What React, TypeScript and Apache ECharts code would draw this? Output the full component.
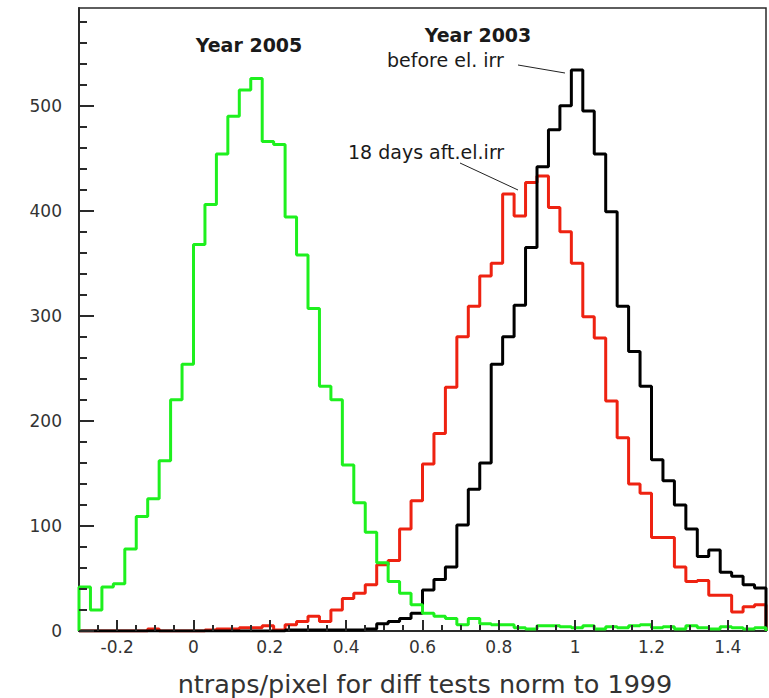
import React, { useEffect, useRef } from "react";
import * as echarts from "echarts";

// Histogram binning: 60 bins of 0.03 from -0.3 to 1.5
const X_MIN = -0.3;
const X_MAX = 1.5;
const BIN_WIDTH = 0.03;

// Counts per bin
const year2005 = [
  42, 20, 42, 45, 78, 109, 126, 162, 220, 254,
  368, 406, 454, 490, 515, 526, 466, 463, 394, 358,
  307, 233, 220, 158, 122, 94, 65, 47, 36, 25,
  17, 14, 12, 6, 12, 7, 6, 6, 3, 2,
  5, 5, 4, 3, 5, 2, 4, 3, 5, 6,
  3, 4, 2, 5, 3, 2, 4, 3, 2, 3,
];

const year2003Before = [
  0, 0, 0, 0, 0, 0, 0, 0, 0, 0,
  0, 0, 0, 0, 0, 0, 0, 0, 1, 1,
  1, 1, 1, 1, 1, 2, 7, 9, 12, 17,
  39, 49, 61, 101, 135, 160, 254, 280, 310, 365,
  442, 477, 500, 534, 495, 454, 399, 309, 266, 233,
  163, 143, 120, 97, 71, 77, 56, 52, 44, 41,
];

const year2003After = [
  0, 0, 0, 0, 0, 0, 2, 0, 0, 0,
  0, 1, 2, 2, 3, 3, 5, 1, 6, 9,
  14, 9, 20, 31, 36, 44, 63, 67, 97, 124,
  159, 188, 232, 280, 309, 338, 350, 416, 395, 427,
  433, 403, 380, 350, 299, 279, 219, 184, 140, 131,
  89, 89, 61, 47, 48, 34, 34, 18, 23, 25,
];

// Axis ticks
const xMajorTicks = [-0.2, 0, 0.2, 0.4, 0.6, 0.8, 1, 1.2, 1.4];
const xTickLabels = ["-0.2", "0", "0.2", "0.4", "0.6", "0.8", "1", "1.2", "1.4"];
const xMinorTicks = [
  -0.25, -0.15, -0.1, -0.05, 0.05, 0.1, 0.15, 0.25, 0.3, 0.35,
  0.45, 0.5, 0.55, 0.65, 0.7, 0.75, 0.85, 0.9, 0.95, 1.05,
  1.1, 1.15, 1.25, 1.3, 1.35, 1.45,
];
const yMajorTicks = [0, 100, 200, 300, 400, 500];
const yMinorTicks = [
  20, 40, 60, 80, 120, 140, 160, 180, 220, 240, 260, 280,
  320, 340, 360, 380, 420, 440, 460, 480, 520, 540, 560, 580,
];
const Y_MAX = 593;

const AXIS_COLOR = "#2a2a2a";
const FONT = "'DejaVu Sans', sans-serif";

// Turn per-bin counts into a closed step outline (starts and ends at zero)
function histogramOutline(values: number[]): [number, number][] {
  const pts: [number, number][] = [[X_MIN, 0]];
  values.forEach((v, i) => {
    pts.push([Number((X_MIN + i * BIN_WIDTH).toFixed(4)), v]);
  });
  pts.push([X_MAX, values[values.length - 1]]);
  pts.push([X_MAX, 0]);
  return pts;
}

function histSeries(name: string, values: number[], color: string) {
  return {
    name,
    type: "line",
    step: "end",
    data: histogramOutline(values),
    showSymbol: false,
    symbol: "none",
    lineStyle: { color, width: 3 },
    z: 3,
  };
}

// Inward-pointing tick marks placed through the axis scales
function tickSeries(axis: "x" | "y", values: number[], length: number) {
  return {
    type: "custom",
    silent: true,
    clip: false,
    z: 4,
    data: values.map((v) => (axis === "x" ? [v, 0] : [X_MIN, v])),
    renderItem: (_params: any, api: any) => {
      const p = api.coord([api.value(0), api.value(1)]);
      const x = Math.round(p[0]);
      const y = Math.round(p[1]);
      const shape =
        axis === "x"
          ? { x1: x, y1: y, x2: x, y2: y - length }
          : { x1: x, y1: y, x2: x + length, y2: y };
      return {
        type: "line",
        shape,
        style: { stroke: AXIS_COLOR, lineWidth: 2 },
      };
    },
  };
}

export default function App() {
  const ref = useRef<HTMLDivElement>(null);

  useEffect(() => {
    if (!ref.current) return;
    const chart = echarts.init(ref.current, null, { renderer: "svg" });

    const lineStyle = { color: AXIS_COLOR, width: 2 };

    chart.setOption({
      animation: false,
      backgroundColor: "#fff",
      grid: {
        left: 79,
        right: 3,
        top: 8,
        bottom: 67,
        show: true,
        borderColor: AXIS_COLOR,
        borderWidth: 1.5,
        backgroundColor: "transparent",
      },
      xAxis: {
        type: "value",
        min: X_MIN,
        max: X_MAX,
        position: "bottom",
        axisLine: { show: true, onZero: false, lineStyle },
        axisTick: { show: false },
        axisLabel: {
          customValues: xMajorTicks,
          formatter: (v: number) => {
            const i = xMajorTicks.findIndex((t) => Math.abs(t - v) < 1e-6);
            return i >= 0 ? xTickLabels[i] : "";
          },
          color: "#333",
          fontFamily: FONT,
          fontSize: 17,
          margin: 7,
        },
        splitLine: { show: false },
      },
      yAxis: {
        type: "value",
        min: 0,
        max: Y_MAX,
        position: "left",
        axisLine: { show: true, onZero: false, lineStyle },
        axisTick: { show: false },
        axisLabel: {
          customValues: yMajorTicks,
          color: "#333",
          fontFamily: FONT,
          fontSize: 17,
          margin: 17,
        },
        splitLine: { show: false },
      },
      series: [
        histSeries("18 days aft.el.irr", year2003After, "#ee2211"),
        histSeries("before el. irr", year2003Before, "#000000"),
        histSeries("Year 2005", year2005, "#1ef01e"),
        tickSeries("x", xMajorTicks, 11),
        tickSeries("x", xMinorTicks, 6),
        tickSeries("y", yMajorTicks, 15),
        tickSeries("y", yMinorTicks, 8),
      ],
      graphic: [
        {
          type: "text",
          x: 249,
          y: 45,
          style: {
            text: "Year 2005",
            font: `bold 19px ${FONT}`,
            fill: "#1a1a1a",
            textAlign: "center",
            textVerticalAlign: "middle",
          },
        },
        {
          type: "text",
          x: 478,
          y: 35,
          style: {
            text: "Year 2003",
            font: `bold 19px ${FONT}`,
            fill: "#1a1a1a",
            textAlign: "center",
            textVerticalAlign: "middle",
          },
        },
        {
          type: "text",
          x: 387,
          y: 60,
          style: {
            text: "before el. irr",
            font: `19px ${FONT}`,
            fill: "#1a1a1a",
            textAlign: "left",
            textVerticalAlign: "middle",
          },
        },
        {
          type: "line",
          shape: { x1: 518, y1: 65, x2: 565, y2: 73 },
          style: { stroke: "#222", lineWidth: 1 },
        },
        {
          type: "text",
          x: 348,
          y: 152,
          style: {
            text: "18 days aft.el.irr",
            font: `19px ${FONT}`,
            fill: "#1a1a1a",
            textAlign: "left",
            textVerticalAlign: "middle",
          },
        },
        {
          type: "line",
          shape: { x1: 460, y1: 163, x2: 518, y2: 190 },
          style: { stroke: "#222", lineWidth: 1 },
        },
        {
          type: "text",
          x: 425,
          y: 684,
          style: {
            text: "ntraps/pixel for diff tests norm to 1999",
            font: `25.5px ${FONT}`,
            fill: "#333",
            textAlign: "center",
            textVerticalAlign: "middle",
          },
        },
      ],
    });

    return () => chart.dispose();
  }, []);

  return (
    <div
      ref={ref}
      style={{ position: "fixed", left: 0, top: 0, width: 769, height: 698, background: "#fff" }}
    />
  );
}
